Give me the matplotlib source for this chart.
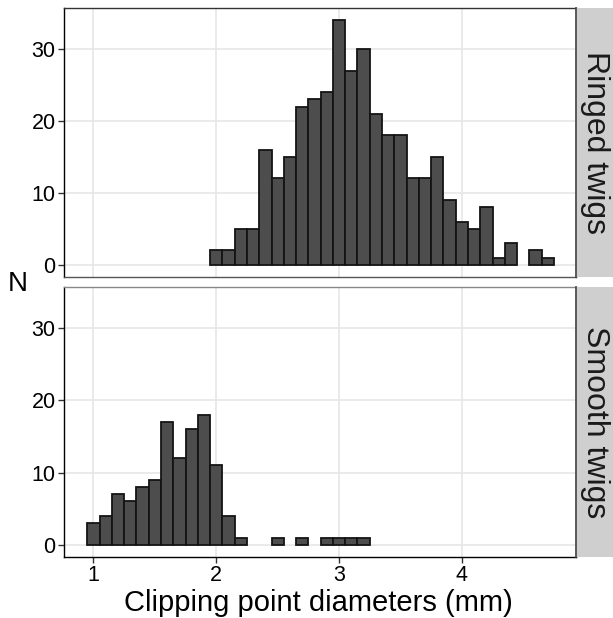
import matplotlib
matplotlib.use("Agg")
import matplotlib.pyplot as plt
import numpy as np

plt.rcParams['font.family'] = ['Liberation Sans', 'DejaVu Sans']

ringed_centers = [2.0, 2.1, 2.2, 2.3, 2.4, 2.5, 2.6, 2.7, 2.8, 2.9, 3.0, 3.1, 3.2, 3.3,
                  3.4, 3.5, 3.6, 3.7, 3.8, 3.9, 4.0, 4.1, 4.2, 4.3, 4.4, 4.6, 4.7]
ringed_counts = [2, 2, 5, 5, 16, 12, 15, 22, 23, 24, 34, 27, 30, 21,
                 18, 18, 12, 12, 15, 9, 6, 5, 8, 1, 3, 2, 1]

smooth_centers = [1.0, 1.1, 1.2, 1.3, 1.4, 1.5, 1.6, 1.7, 1.8, 1.9, 2.0, 2.1, 2.2,
                  2.5, 2.7, 2.9, 3.0, 3.1, 3.2]
smooth_counts = [3, 4, 7, 6, 8, 9, 17, 12, 16, 18, 11, 4, 1,
                 1, 1, 1, 1, 1, 1]

panel_labels = ["Ringed twigs", "Smooth twigs"]
x_ticks = [1, 2, 3, 4]
y_ticks = [0, 10, 20, 30]
bin_width = 0.1

W, H = 613, 618
fig = plt.figure(figsize=(W / 100, H / 100), dpi=100)

def fx(px):
    return px / W

def fy(py):
    return 1 - py / H

panels = [(8, 277), (287, 557)]
data = [(ringed_centers, ringed_counts), (smooth_centers, smooth_counts)]

for i, ((top, bot), (cx, cy), lab) in enumerate(zip(panels, data, panel_labels)):
    ax = fig.add_axes([fx(64), fy(bot), fx(576) - fx(64), fy(top) - fy(bot)])
    ax.set_axisbelow(True)
    ax.grid(True, color='#E6E6E6', linewidth=1.2)
    ax.bar(cx, cy, width=bin_width, color='#4D4D4D', edgecolor='#141414',
           linewidth=1.3, align='center', zorder=3)
    ax.set_xlim(0.76, 4.93)
    ax.set_ylim(-1.7, 35.7)
    ax.set_xticks(x_ticks)
    ax.set_yticks(y_ticks)
    ax.tick_params(axis='both', labelsize=15.5, length=4, width=1, color='#333333',
                   labelcolor='black', pad=2)
    ax.spines['right'].set_color('#444444')
    ax.spines['left'].set_color('black')
    if i == 0:
        ax.spines['top'].set_color('#333333')
        ax.spines['bottom'].set_color('#555555')
        ax.tick_params(axis='x', labelbottom=False, length=0)
    else:
        ax.spines['top'].set_color('#888888')
        ax.spines['bottom'].set_color('black')
    for s in ax.spines.values():
        s.set_linewidth(1.0)
    # strip
    sax = fig.add_axes([fx(576), fy(bot), fx(613) - fx(576), fy(top) - fy(bot)])
    sax.set_facecolor('#CFCFCF')
    sax.set_xticks([])
    sax.set_yticks([])
    for s in ['top', 'right', 'bottom']:
        sax.spines[s].set_visible(False)
    sax.spines['left'].set_color('#444444')
    sax.spines['left'].set_linewidth(1.2)
    sax.text(0.5, 0.5, lab, rotation=-90, ha='center', va='center',
             fontsize=23, color='#1A1A1A', transform=sax.transAxes)

fig.text(fx(18), fy(284), "N", fontsize=20, ha='center', va='center')
fig.text(fx(318), fy(603), "Clipping point diameters (mm)", fontsize=21,
         ha='center', va='center')

fig.savefig("out.png", dpi=100)
